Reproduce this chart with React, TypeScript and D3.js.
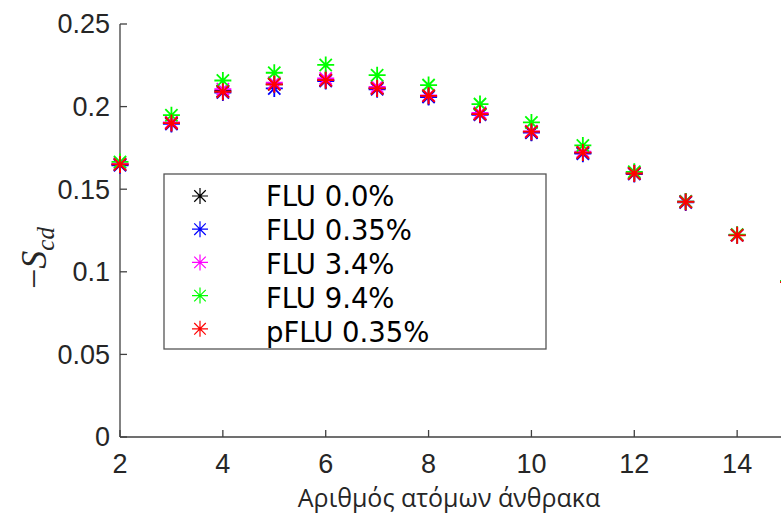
import React from "react";
import * as d3 from "d3";

const carbons = [2, 3, 4, 5, 6, 7, 8, 9, 10, 11, 12, 13, 14, 15];
const flu00 = [0.165, 0.19, 0.2095, 0.2135, 0.216, 0.2112, 0.2062, 0.1955, 0.1845, 0.172, 0.1597, 0.1425, 0.1222, 0.094];
const flu035 = [0.1645, 0.1895, 0.2085, 0.211, 0.2155, 0.2105, 0.2058, 0.195, 0.1842, 0.1715, 0.1592, 0.142, 0.1222, 0.094];
const flu34 = [0.1655, 0.1905, 0.2105, 0.2145, 0.217, 0.212, 0.2068, 0.1962, 0.185, 0.1728, 0.16, 0.1425, 0.1222, 0.094];
const flu94 = [0.1665, 0.1948, 0.2158, 0.2205, 0.2252, 0.219, 0.213, 0.2015, 0.1904, 0.1765, 0.1605, 0.1425, 0.1225, 0.0945];
const pflu035 = [0.165, 0.19, 0.209, 0.2135, 0.216, 0.211, 0.2065, 0.1955, 0.1848, 0.1722, 0.1595, 0.1423, 0.1221, 0.0938];

const seriesNames = ["FLU 0.0%", "FLU 0.35%", "FLU 3.4%", "FLU 9.4%", "pFLU 0.35%"];
const seriesColors = ["#000000", "#0000ff", "#ff00ff", "#00ff00", "#ff0000"];
const seriesValues = [flu00, flu035, flu34, flu94, pflu035];

const xTicks = [2, 4, 6, 8, 10, 12, 14];
const yTicks = [0, 0.05, 0.1, 0.15, 0.2, 0.25];
const xLabel = "Αριθμός ατόμων άνθρακα";

const W = 781;
const H = 515;

function Star({ cx, cy, r, color, sw }: { cx: number; cy: number; r: number; color: string; sw: number }) {
  const d = r * 0.72;
  const path = `M${cx - r},${cy}L${cx + r},${cy}M${cx},${cy - r}L${cx},${cy + r}M${cx - d},${cy - d}L${cx + d},${cy + d}M${cx - d},${cy + d}L${cx + d},${cy - d}`;
  return <path d={path} stroke={color} strokeWidth={sw} fill="none" />;
}

export default function App() {
  const x = d3.scaleLinear().domain([2, 16]).range([120, 840]);
  const y = d3.scaleLinear().domain([0, 0.25]).range([437, 24]);
  const axisColor = "#404040";
  const tickFont = "'Liberation Sans', Arial, sans-serif";

  return (
    <svg width={W} height={H} style={{ position: "absolute", left: 0, top: 0, background: "#fff" }}>
      {/* axes */}
      <line x1={x(2)} x2={W + 10} y1={y(0)} y2={y(0)} stroke={axisColor} strokeWidth={1.3} />
      <line x1={x(2)} x2={x(2)} y1={y(0)} y2={y(0.25)} stroke={axisColor} strokeWidth={1.3} />
      {yTicks.map((t) => (
        <g key={"y" + t}>
          <line x1={x(2)} x2={x(2) + 7} y1={y(t)} y2={y(t)} stroke={axisColor} strokeWidth={1.3} />
          <text x={110} y={y(t)} dy="0.35em" textAnchor="end" fontFamily={tickFont} fontSize={27} fill="#262626">
            {String(t)}
          </text>
        </g>
      ))}
      {xTicks.map((t) => (
        <g key={"x" + t}>
          <line x1={x(t)} x2={x(t)} y1={y(0)} y2={y(0) - 7} stroke={axisColor} strokeWidth={1.3} />
          <text x={x(t)} y={473} textAnchor="middle" fontFamily={tickFont} fontSize={27} fill="#262626">
            {String(t)}
          </text>
        </g>
      ))}
      <text x={449} y={507} textAnchor="middle" fontFamily="'Open Sans', 'Noto Sans', sans-serif" fontSize={25} fill="#262626">
        {xLabel}
      </text>
      <text transform="translate(46,258) rotate(-90)" textAnchor="middle" fontFamily="'Liberation Serif', serif" fontSize={36} fill="#262626">
        <tspan>−</tspan>
        <tspan fontStyle="italic">S</tspan>
        <tspan fontStyle="italic" fontSize={25} dy={8}>cd</tspan>
      </text>

      {/* data */}
      {seriesValues.map((vals, si) => (
        <g key={"s" + si}>
          {vals.map((v, i) => (
            <Star key={i} cx={x(carbons[i])} cy={y(v)} r={8.5} color={seriesColors[si]} sw={1.8} />
          ))}
        </g>
      ))}

      {/* legend */}
      <rect x={164} y={174} width={382} height={175} fill="#fff" stroke="#555" strokeWidth={1.3} />
      {seriesNames.map((n, i) => (
        <g key={"l" + i}>
          <Star cx={200} cy={196 + i * 33.2} r={8} color={seriesColors[i]} sw={1.2} />
          <text x={266} y={206 + i * 34} fontFamily="'DejaVu Sans', sans-serif" fontSize={27.5} fill="#000">
            {n}
          </text>
        </g>
      ))}
    </svg>
  );
}
